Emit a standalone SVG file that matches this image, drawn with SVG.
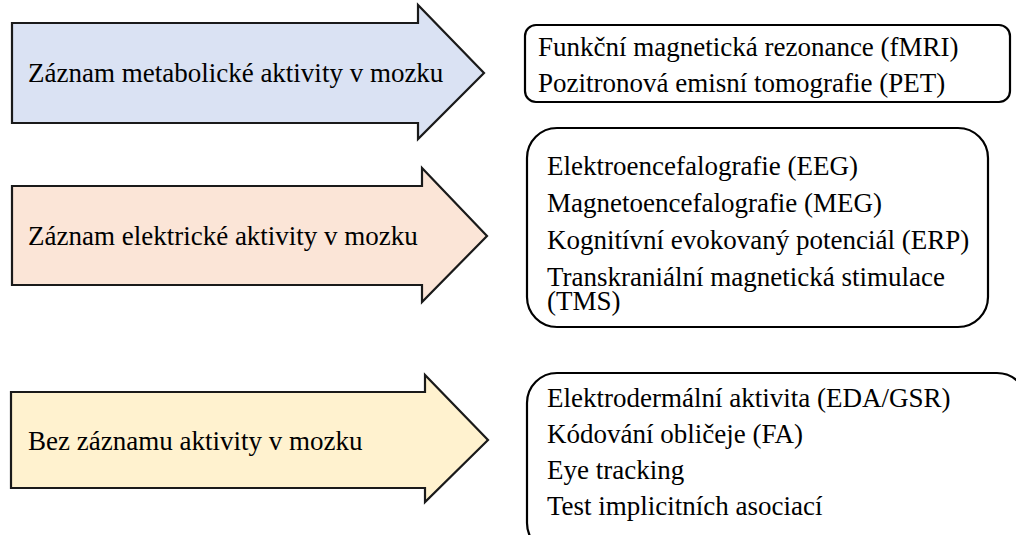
<svg xmlns="http://www.w3.org/2000/svg" width="1016" height="535" viewBox="0 0 1016 535">
<style>
.arrow{stroke:#1a1a1a;stroke-width:2.2;stroke-linejoin:miter}
.box{fill:#ffffff;stroke:#000000;stroke-width:2.2}
</style>
<rect width="1016" height="535" fill="#ffffff"/>
<g font-family="Liberation Serif, Tinos, Times New Roman, Times, serif" font-size="27" fill="#000000">
<g id="arrow-metabolic">
<polygon class="arrow" fill="#dae2f3" points="12,23 418,23 418,5 484,73 418,139 418,123 12,123"/>
<text x="28" y="82">Záznam metabolické aktivity v mozku</text>
</g>
<g id="arrow-electric">
<polygon class="arrow" fill="#fbe5d7" points="12,186 422,186 422,168 487,236 422,302 422,285 12,285"/>
<text x="28" y="245">Záznam elektrické aktivity v mozku</text>
</g>
<g id="arrow-none">
<polygon class="arrow" fill="#fff2cf" points="11,392 425,392 425,375 488,440 425,502 425,488 11,488"/>
<text x="28" y="450">Bez záznamu aktivity v mozku</text>
</g>
<g id="box-metabolic">
<rect class="box" x="525" y="25" width="485" height="77" rx="11" ry="11"/>
<text x="538" y="56">Funkční magnetická rezonance (fMRI)</text>
<text x="538" y="92">Pozitronová emisní tomografie (PET)</text>
</g>
<g id="box-electric">
<rect class="box" x="527" y="128" width="461" height="199" rx="30" ry="30"/>
<text x="547" y="175">Elektroencefalografie (EEG)</text>
<text x="547" y="212">Magnetoencefalografie (MEG)</text>
<text x="547" y="249">Kognitívní evokovaný potenciál (ERP)</text>
<text x="547" y="286">Transkraniální magnetická stimulace</text>
<text x="547" y="310">(TMS)</text>
</g>
<g id="box-none">
<rect class="box" x="527" y="373" width="500" height="180" rx="30" ry="30"/>
<text x="547" y="407">Elektrodermální aktivita (EDA/GSR)</text>
<text x="547" y="443">Kódování obličeje (FA)</text>
<text x="547" y="479">Eye tracking</text>
<text x="547" y="515">Test implicitních asociací</text>
</g>
</g>
<g id="connectors"></g>
</svg>
